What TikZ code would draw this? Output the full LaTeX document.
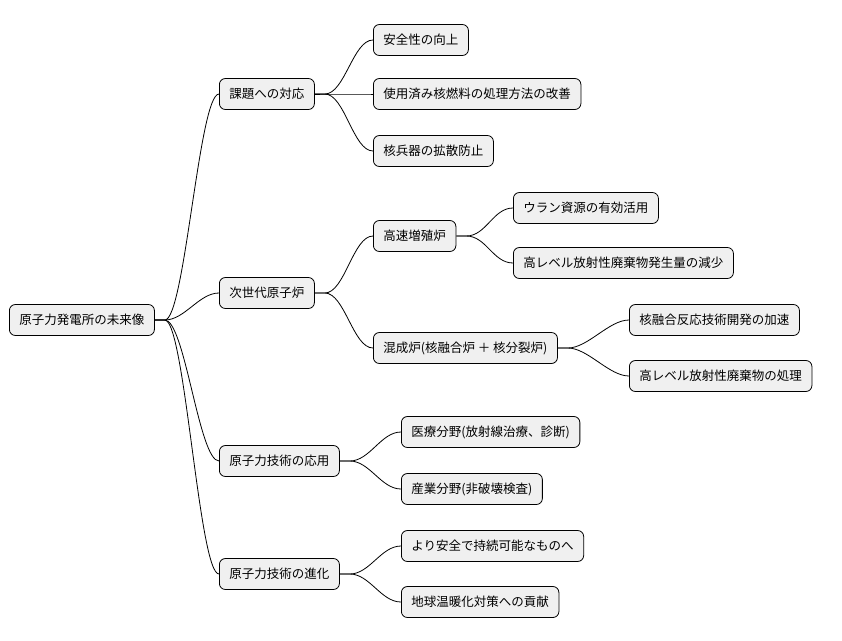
\documentclass[tikz,border=0pt]{standalone}
\usepackage{fontspec}
\setmainfont{Noto Sans CJK JP}
\usetikzlibrary{positioning}

\begin{document}
\begin{tikzpicture}[
  x=1pt, y=-1pt,
  topic/.style={rectangle, rounded corners=6pt, draw=black, line width=0.8pt, fill=black!6,
               minimum height=31pt, inner xsep=10pt, anchor=west, font=\fontsize{12.5}{14}\selectfont},
  link/.style={line width=0.8pt, color=black}
]
\useasboundingbox (0,0) rectangle (842,640);

% root and first level
\node[topic] (root) at (9,320) {原子力発電所の未来像};
\node[topic] (issue) at (219,94) {課題への対応};
\node[topic] (next) at (219,293) {次世代原子炉};
\node[topic] (apply) at (219,461) {原子力技術の応用};
\node[topic] (evolve) at (219,574) {原子力技術の進化};

% second level
\node[topic] (safe) at (373,40) {安全性の向上};
\node[topic] (fuel) at (373,94) {使用済み核燃料の処理方法の改善};
\node[topic] (prolif) at (373,151) {核兵器の拡散防止};
\node[topic] (fbr) at (373,236) {高速増殖炉};
\node[topic] (hybrid) at (373,348) {混成炉(核融合炉 ＋ 核分裂炉)};
\node[topic] (medical) at (401,432) {医療分野(放射線治療、診断)};
\node[topic] (industry) at (401,489) {産業分野(非破壊検査)};
\node[topic] (sustain) at (401,546) {より安全で持続可能なものへ};
\node[topic] (climate) at (401,602) {地球温暖化対策への貢献};

% third level
\node[topic] (uranium) at (513,208) {ウラン資源の有効活用};
\node[topic] (waste) at (513,263) {高レベル放射性廃棄物発生量の減少};
\node[topic] (fusion) at (629,320) {核融合反応技術開発の加速};
\node[topic] (treat) at (629,376) {高レベル放射性廃棄物の処理};

\foreach \p/\c in {root/issue, root/next, root/apply, root/evolve,
  issue/safe, issue/fuel, issue/prolif, next/fbr, next/hybrid,
  apply/medical, apply/industry, evolve/sustain, evolve/climate,
  fbr/uranium, fbr/waste, hybrid/fusion, hybrid/treat}
  \draw[link] (\p.east) -- ++(10,0) .. controls +(20,0) and +(-20,0) .. (\c.west);

\end{tikzpicture}
\end{document}
